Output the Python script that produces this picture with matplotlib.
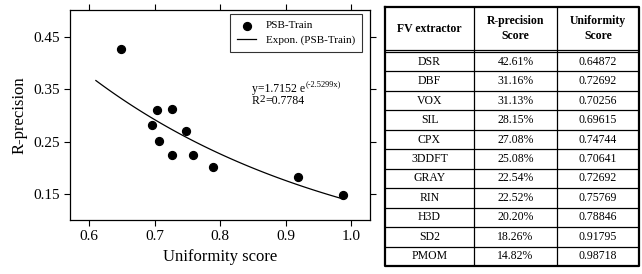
import numpy as np
import matplotlib.pyplot as plt

plt.rcParams['font.family'] = ['Liberation Serif', 'DejaVu Serif']

# Data
extractors = ['DSR', 'DBF', 'VOX', 'SIL', 'CPX', '3DDFT', 'GRAY', 'RIN', 'H3D', 'SD2', 'PMOM']
r_precision = [42.61, 31.16, 31.13, 28.15, 27.08, 25.08, 22.54, 22.52, 20.20, 18.26, 14.82]
uniformity = [0.64872, 0.72692, 0.70256, 0.69615, 0.74744, 0.70641, 0.72692, 0.75769, 0.78846, 0.91795, 0.98718]
fit_a, fit_b = 1.7152, -2.5299
fit_r2 = 0.7784
header = ['FV extractor', 'R-precision\nScore', 'Uniformity\nScore']

fig = plt.figure(figsize=(6.42, 2.74), dpi=100)
W, H = 642, 274

# Scatter plot
ax = fig.add_axes([70 / W, 1 - 220 / H, 300 / W, 210 / H])
x = np.array(uniformity)
y = np.array(r_precision) / 100
ax.scatter(x, y, s=32, color='black', zorder=3, label='PSB-Train')
xf = np.linspace(0.61, x.max(), 100)
ax.plot(xf, fit_a * np.exp(fit_b * xf), color='black', lw=0.9, label='Expon. (PSB-Train)')
ax.set_xlim(0.5705, 1.0285)
ax.set_ylim(0.101, 0.5008)
ax.set_xticks([0.6, 0.7, 0.8, 0.9, 1.0])
ax.set_yticks([0.15, 0.25, 0.35, 0.45])
ax.set_xticklabels(['0.6', '0.7', '0.8', '0.9', '1.0'])
ax.tick_params(direction='out', top=True, right=True, labelsize=11, length=4, width=0.8)
ax.set_xlabel('Uniformity score', fontsize=12, labelpad=4)
ax.set_ylabel('R-precision', fontsize=12, labelpad=4)
for s in ax.spines.values():
    s.set_linewidth(0.9)
leg = ax.legend(loc='upper right', fontsize=8, frameon=True, fancybox=False,
                edgecolor='black', borderpad=0.6, handlelength=1.7, handletextpad=0.9,
                bbox_to_anchor=(0.973, 0.981), borderaxespad=0, labelspacing=0.4)
leg.get_frame().set_linewidth(0.8)

# fit equation, exponent written as plain text to keep the hyphen
eq = ax.text(0.607, 0.61, f'y={fit_a} e', transform=ax.transAxes, fontsize=8.5, va='baseline')
ax.annotate(f'({fit_b}x)', xy=(1, 0), xycoords=eq, xytext=(0.5, 5),
            textcoords='offset points', fontsize=6, va='bottom')
r2 = ax.text(0.607, 0.552, 'R', transform=ax.transAxes, fontsize=8.5, va='baseline')
r2s = ax.annotate('2', xy=(1, 0), xycoords=r2, xytext=(0, 2.5),
                  textcoords='offset points', fontsize=8, va='bottom')
ax.annotate(f'={fit_r2}', xy=(1, 0), xycoords=(r2s, r2), xytext=(0, 0),
            textcoords='offset points', fontsize=8.5, va='bottom')

# Table
tx0, tx1, ty0, ty1 = 385, 639, 7, 266
tab = fig.add_axes([tx0 / W, 1 - ty1 / H, (tx1 - tx0) / W, (ty1 - ty0) / H])
tab.set_axis_off()
head_h = 43 / 19.45
gap = 2 / 19.45
n = len(extractors)
total = head_h + gap + n
tab.set_xlim(0, 1)
tab.set_ylim(total, 0)
col_edges = [0, (474 - tx0) / (tx1 - tx0), (557 - tx0) / (tx1 - tx0), 1]
col_mid = [(col_edges[i] + col_edges[i + 1]) / 2 for i in range(3)]

# outer border
tab.plot([0, 1, 1, 0, 0], [0, 0, total, total, 0], color='black', lw=1.6, clip_on=False)
for cx in col_edges[1:-1]:
    tab.plot([cx, cx], [0, total], color='black', lw=0.9)
# double line under header
tab.plot([0, 1], [head_h, head_h], color='black', lw=0.9)
tab.plot([0, 1], [head_h + gap, head_h + gap], color='black', lw=0.9)
for i in range(1, n):
    yy = head_h + gap + i
    tab.plot([0, 1], [yy, yy], color='black', lw=0.9)

for j, h in enumerate(header):
    tab.text(col_mid[j], head_h / 2, h, ha='center', va='center', fontsize=8.5,
             fontweight='bold', linespacing=1.25)
for i in range(n):
    yc = head_h + gap + i + 0.5
    row = [extractors[i], f'{r_precision[i]:.2f}%', f'{uniformity[i]:.5f}']
    for j, v in enumerate(row):
        tab.text(col_mid[j], yc, v, ha='center', va='center', fontsize=8.5)

fig.savefig('out.png', dpi=100)
